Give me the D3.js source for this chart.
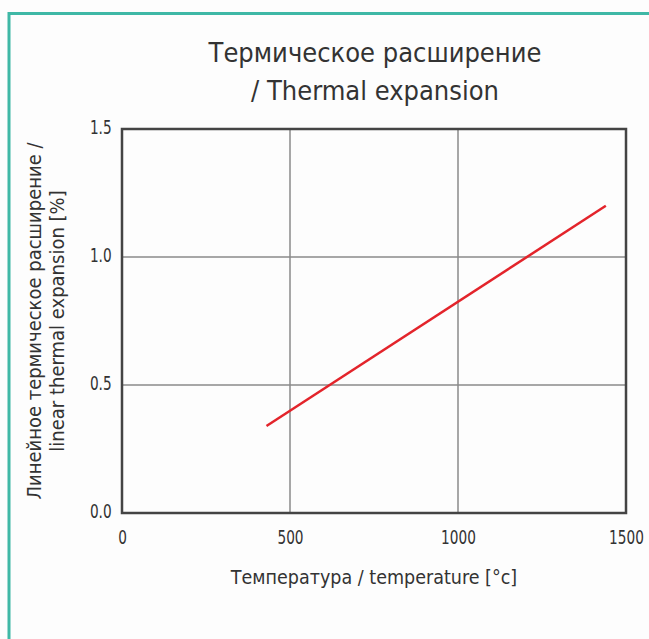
<!DOCTYPE html>
<html>
<head>
<meta charset="utf-8">
<script src="https://cdn.jsdelivr.net/npm/d3@7"></script>
<style>
  body { margin: 0; background: #fdfdfd; }
  svg { display: block; }
  text { font-family: "Liberation Sans Narrow", "DejaVu Sans Condensed", "Roboto", sans-serif; fill: #333; }
</style>
</head>
<body>
<div id="chart"></div>
<script>
// data
const temperature = [430, 1440];
const expansion = [0.34, 1.2];
const xTicks = [0, 500, 1000, 1500];
const yTicks = [0.0, 0.5, 1.0, 1.5];
const titleLines = ["Термическое расширение", "/ Thermal expansion"];
const yLabelLines = ["Линейное термическое расширение /", "linear thermal expansion [%]"];
const xLabel = "Температура / temperature [°c]";

const w = 649, h = 639;
const plot = {left: 122, right: 626, top: 129, bottom: 513};

const svg = d3.select("#chart").append("svg")
    .attr("width", w)
    .attr("height", h);

// teal frame on the top and left
svg.append("path")
    .attr("d", "M9,639 V13.5 H649")
    .attr("fill", "none")
    .attr("stroke", "#3fb8a6")
    .attr("stroke-width", 3);

const x = d3.scaleLinear().domain([0, 1500]).range([plot.left, plot.right]);
const y = d3.scaleLinear().domain([0, 1.5]).range([plot.bottom, plot.top]);

// grid
const grid = svg.append("g");
grid.selectAll("line.vx")
    .data(xTicks.slice(1, -1))
    .enter().append("line")
    .attr("x1", d => x(d)).attr("x2", d => x(d))
    .attr("y1", plot.top).attr("y2", plot.bottom)
    .attr("stroke", "#8a8a8a").attr("stroke-width", 1.5);
grid.selectAll("line.hy")
    .data(yTicks.slice(1, -1))
    .enter().append("line")
    .attr("x1", plot.left).attr("x2", plot.right)
    .attr("y1", d => y(d)).attr("y2", d => y(d))
    .attr("stroke", "#8a8a8a").attr("stroke-width", 1.5);

// frame
svg.append("rect")
    .attr("x", plot.left).attr("y", plot.top)
    .attr("width", plot.right - plot.left)
    .attr("height", plot.bottom - plot.top)
    .attr("fill", "none")
    .attr("stroke", "#444")
    .attr("stroke-width", 2.5);

// axes tick labels (narrowed a bit, the original font is condensed)
const xAxis = svg.append("g")
    .attr("transform", "translate(0," + (plot.bottom + 12) + ")")
    .call(d3.axisBottom(x).tickValues(xTicks).tickSize(0).tickFormat(d3.format("d")));
xAxis.select(".domain").remove();
xAxis.selectAll("text").attr("font-size", 19).attr("dy", "0.85em")
    .attr("transform", "scale(0.8,1)");

const yAxis = svg.append("g")
    .attr("transform", "translate(" + (plot.left - 8) + ",0)")
    .call(d3.axisLeft(y).tickValues(yTicks).tickSize(0).tickFormat(d3.format(".1f")));
yAxis.select(".domain").remove();
yAxis.selectAll("text").attr("font-size", 19).attr("dy", "0.22em")
    .attr("transform", "scale(0.8,1)");
svg.selectAll(".tick text").attr("fill", "#333");

// line
const line = d3.line()
    .x((d, i) => x(temperature[i]))
    .y(d => y(d));

svg.append("path")
    .datum(expansion)
    .attr("fill", "none")
    .attr("stroke", "#e3242b")
    .attr("stroke-width", 2.5)
    .attr("d", line);

// title
svg.append("g").selectAll("text")
    .data(titleLines)
    .enter().append("text")
    .attr("x", 375)
    .attr("y", (d, i) => 62 + i * 38)
    .attr("text-anchor", "middle")
    .attr("font-size", 27)
    .text(d => d);

// x label
svg.append("text")
    .attr("x", 374)
    .attr("y", 584)
    .attr("text-anchor", "middle")
    .attr("font-size", 19.5)
    .text(xLabel);

// y label
svg.append("g")
    .attr("transform", "translate(41,321) rotate(-90)")
    .selectAll("text")
    .data(yLabelLines)
    .enter().append("text")
    .attr("x", 0)
    .attr("y", (d, i) => i * 23)
    .attr("text-anchor", "middle")
    .attr("font-size", 20)
    .text(d => d);
</script>
</body>
</html>
